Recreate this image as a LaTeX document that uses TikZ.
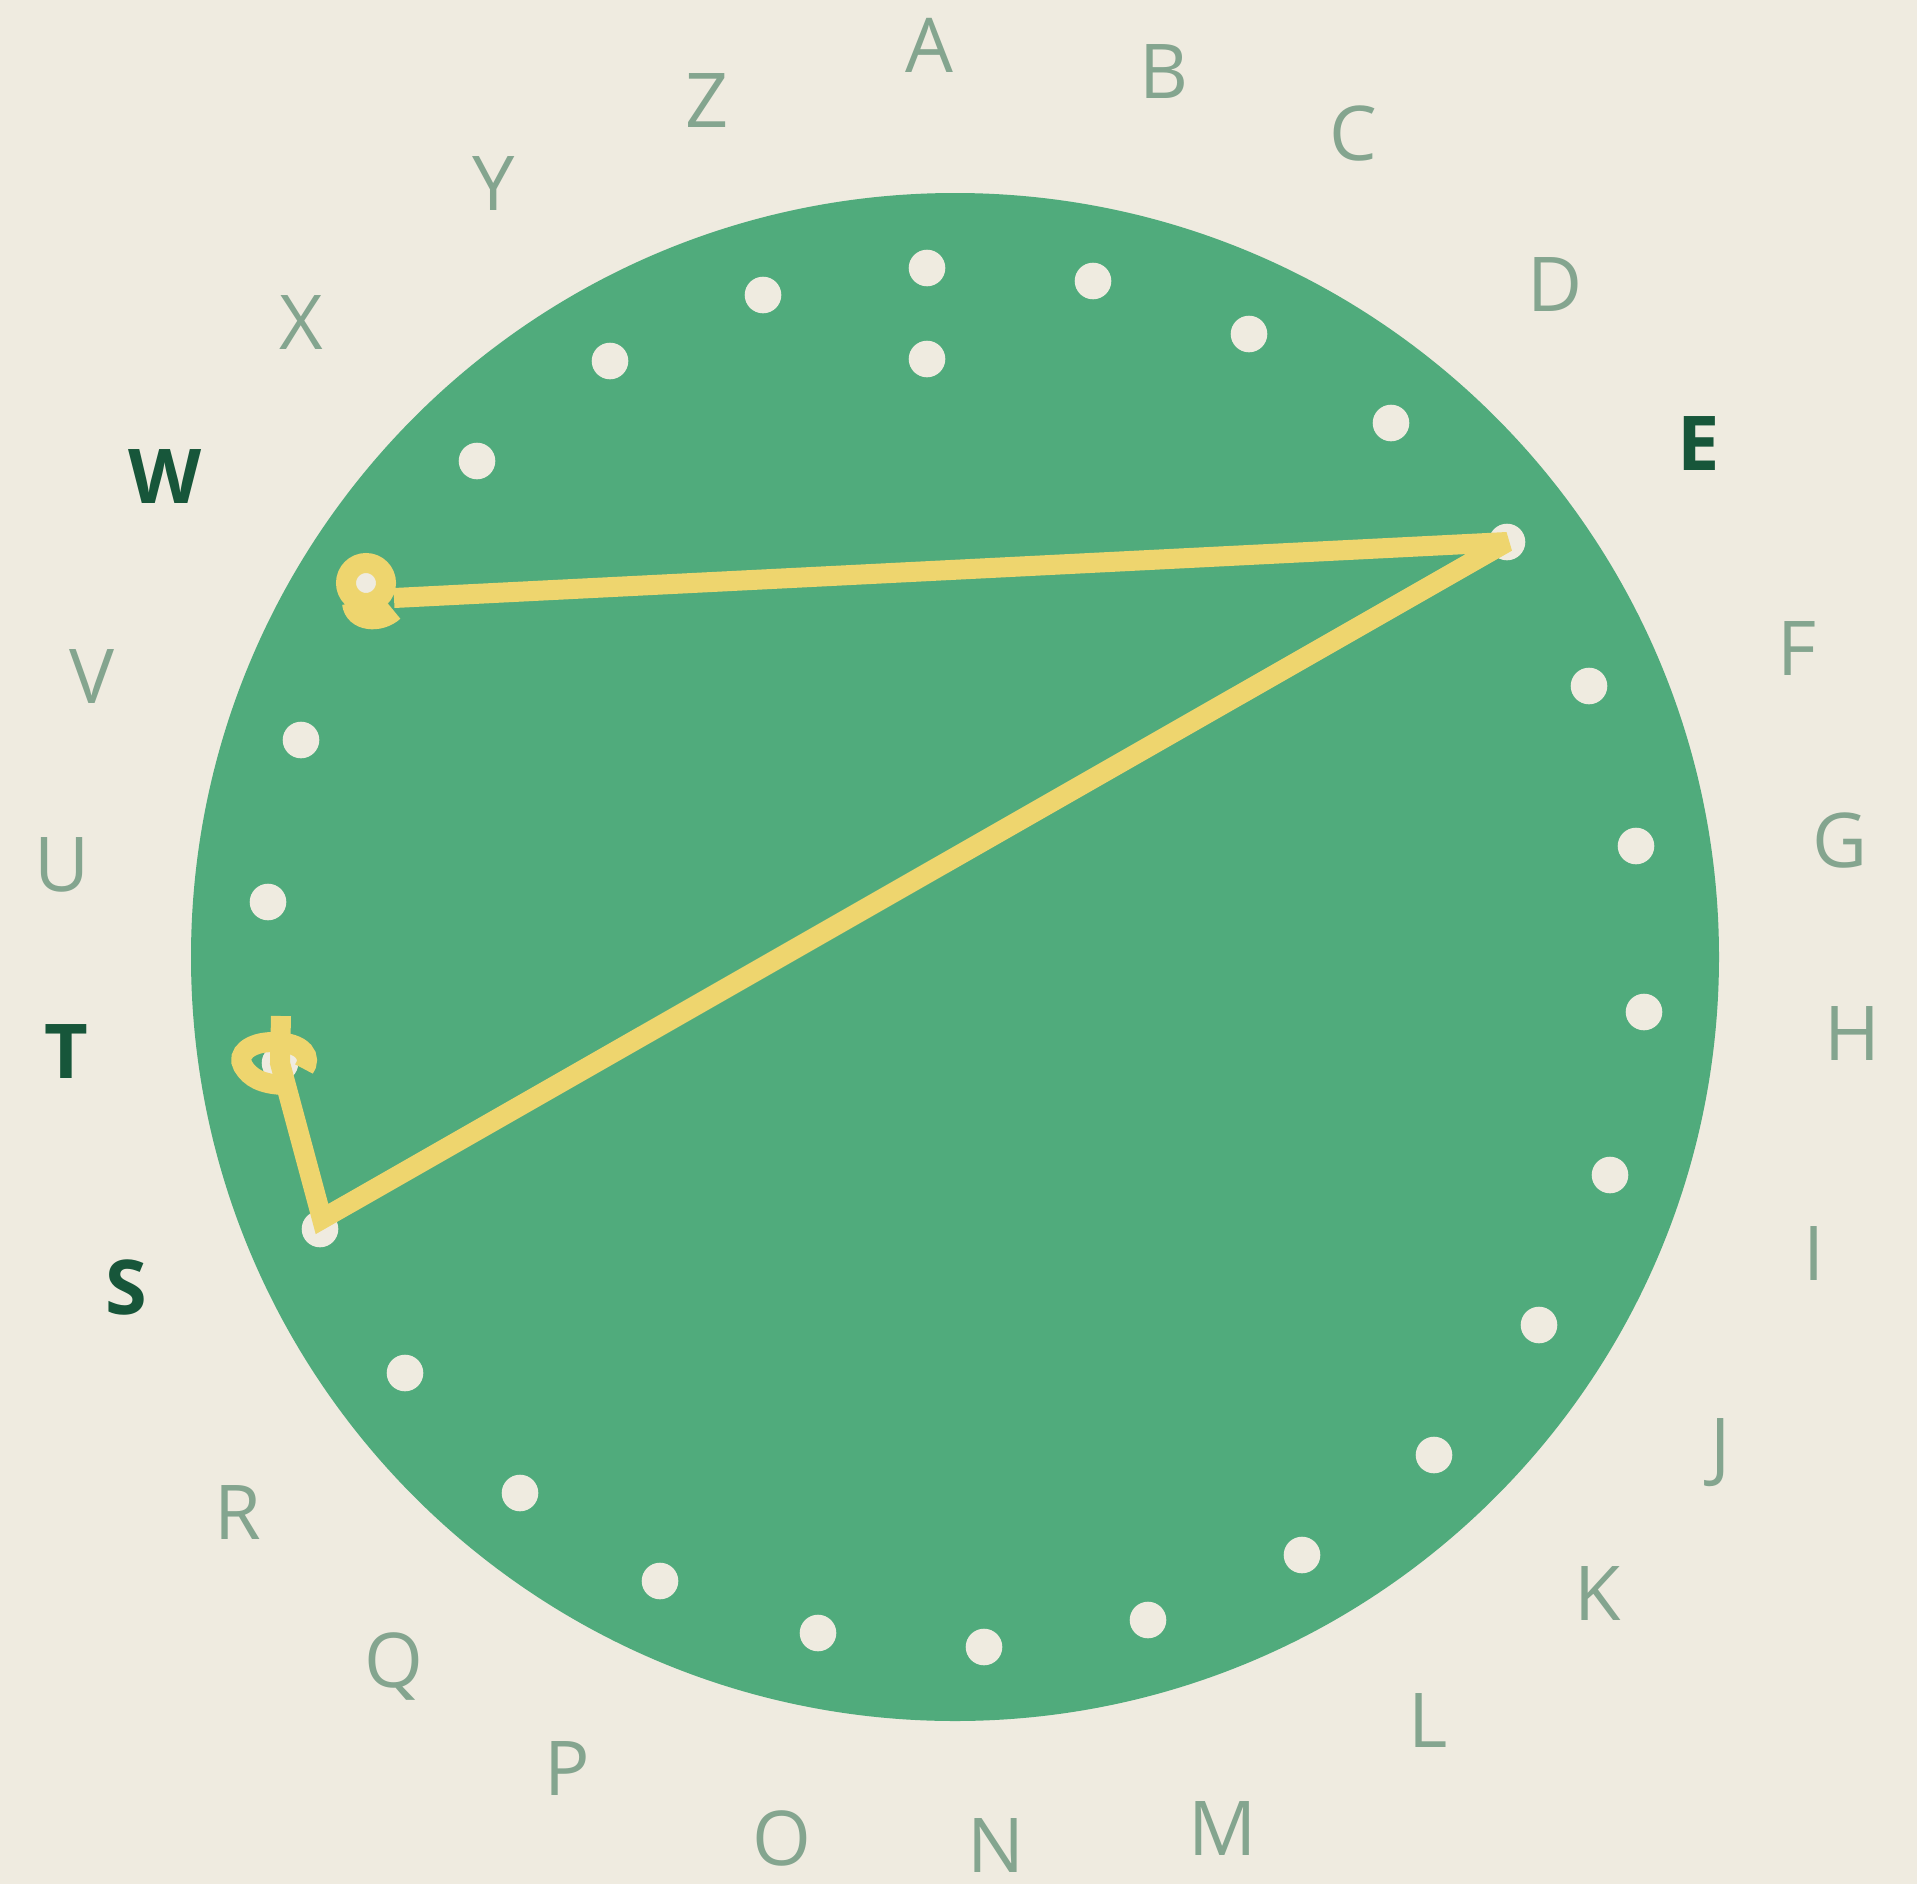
\documentclass[tikz,border=0pt]{standalone}
\usepackage{fontspec}
\setmainfont{Open Sans}
\definecolor{bg}{HTML}{EFEBE0}
\definecolor{wheel}{HTML}{50AB7C}
\definecolor{trailcol}{HTML}{EED56E}
\definecolor{lettercol}{HTML}{84A58F}
\definecolor{hotcol}{HTML}{17563A}
\begin{document}
\begin{tikzpicture}[x=0.5pt,y=-0.5pt,
  lbl/.style={text=lettercol, font=\fontsize{37.8}{40}\selectfont, inner sep=0pt, text height=27pt, text depth=0pt},
  hot/.style={lbl, text=hotcol, font=\fontsize{37.8}{40}\selectfont\bfseries},
  dot/.style={circle, fill=bg, minimum size=18.3pt, inner sep=0pt},
  trail/.style={draw=trailcol, line width=10pt, miter limit=4, line join=miter, line cap=butt}]
\useasboundingbox (0,0) rectangle (1917,1884);
\fill[bg] (0,0) rectangle (1917,1884);
\fill[wheel] (955,957) circle[radius=382pt];
% letters
\foreach \n/\x/\y in {A/929/46, B/1164/71, C/1353/134, D/1555/284, F/1797/648,
  G/1840/840, H/1852/1033, I/1814/1253, J/1721/1445, K/1598/1593, L/1428/1720,
  M/1223/1828, N/996/1845, O/782/1838, P/567/1768, Q/394/1660, R/238/1512,
  U/62/864, V/92/676, X/301/322, Y/494/183, Z/707/100}
  \node[lbl] (l\n) at (\x,\y) {\n};
\foreach \n/\x/\y in {E/1699/443, S/126/1287, T/66/1051, W/165/476}
  \node[hot] (l\n) at (\x,\y) {\n};
% dots
\foreach \n/\x/\y in {A/927/268, B/1093/281, C/1249/334, D/1391/423, E/1507/542,
  F/1589/686, G/1636/846, H/1644/1012, I/1610/1175, J/1539/1325, K/1434/1455,
  L/1302/1555, M/1148/1620, N/984/1647, O/818/1633, P/660/1581, Q/520/1493,
  R/405/1373, S/320/1229, T/280/1063, U/268/902, V/301/740, W/366/585,
  X/477/461, Y/610/361, Z/763/295, A2/927/359}
  \node[dot] (d\n) at (\x,\y) {};
% trail
\coordinate (tTop) at (281,1016);
\coordinate (sTurn) at (322,1219);
\coordinate (wEnd) at (394,598);
\draw[trail] (tTop) -- (dT.center) -- (sTurn) -- (dE.center) -- (wEnd);
% curl at T
\draw[trail] (304,1069) .. controls (312,1058) and (305,1042) .. (273,1042)
  .. controls (250,1042) and (236,1054) .. (243,1066)
  .. controls (250,1078) and (262,1084) .. (283,1085);
% curl at W
\draw[trail] (366,583) circle[radius=10pt];
\draw[trail] (352,603) .. controls (354,622) and (380,624) .. (394,611);
\end{tikzpicture}
\end{document}
